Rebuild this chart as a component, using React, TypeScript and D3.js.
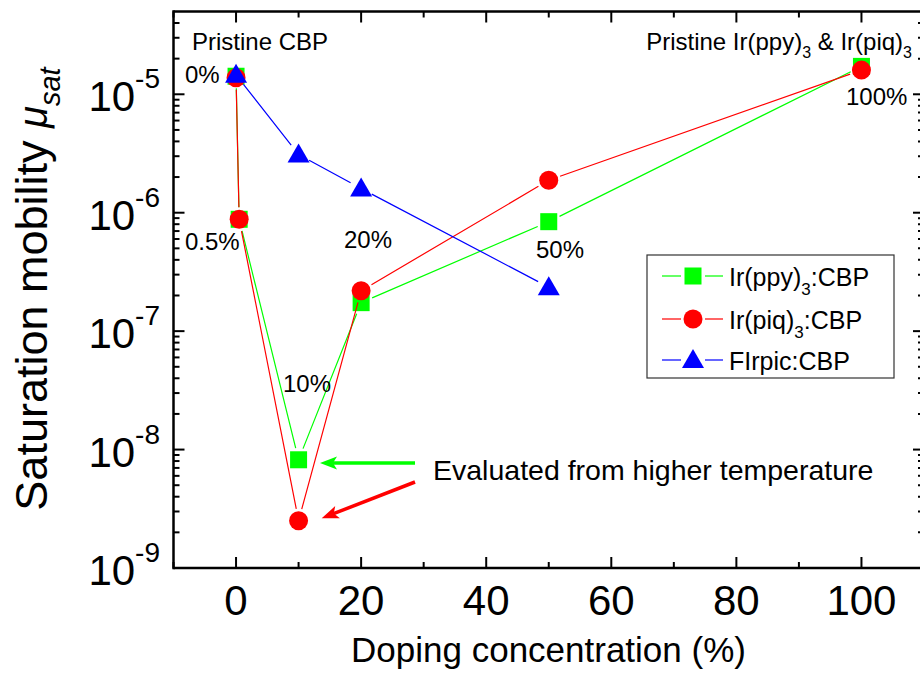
import React from "react";
import * as d3 from "d3";

const W = 920;
const H = 677;

const seriesNames = ["Ir(ppy)3:CBP", "Ir(piq)3:CBP", "FIrpic:CBP"];
const pplyX = [0, 0.5, 10, 20, 50, 100];
const pplyY = [1.42e-5, 8.8e-7, 8.2e-9, 1.74e-7, 8.4e-7, 1.72e-5];
const piqX = [0, 0.5, 10, 20, 50, 100];
const piqY = [1.38e-5, 8.8e-7, 2.51e-9, 2.19e-7, 1.88e-6, 1.6e-5];
const firX = [0, 10, 20, 50];
const firY = [1.46e-5, 3.1e-6, 1.6e-6, 2.35e-7];

const xTicks = [0, 20, 40, 60, 80, 100];
const xMinor = [-10, 10, 30, 50, 70, 90, 110];
const yExps = [-9, -8, -7, -6, -5];

const FONT = "'Liberation Sans', Arial, Helvetica, sans-serif";

const x = d3.scaleLinear().domain([-10, 110]).range([173.5, 924]);
const y = d3.scaleLog().domain([1e-9, 5e-5]).range([568, 11.5]);

const colors = ["#00ff00", "#ff0000", "#0000ff"];

function Marker({ kind, cx, cy, color }: { kind: number; cx: number; cy: number; color: string }) {
  if (kind === 0) return <rect x={cx - 8.5} y={cy - 8.5} width={17} height={17} fill={color} />;
  if (kind === 1) return <circle cx={cx} cy={cy} r={9.5} fill={color} />;
  return <path d={`M${cx},${cy - 11}L${cx + 11},${cy + 8}L${cx - 11},${cy + 8}Z`} fill={color} />;
}

function gappedSegments(pts: [number, number][], gap: number) {
  const segs: string[] = [];
  for (let i = 0; i < pts.length - 1; i++) {
    const [x1, y1] = pts[i];
    const [x2, y2] = pts[i + 1];
    const dx = x2 - x1, dy = y2 - y1;
    const L = Math.hypot(dx, dy);
    if (L <= 2 * gap) continue;
    const ux = dx / L, uy = dy / L;
    segs.push(`M${x1 + ux * gap},${y1 + uy * gap}L${x2 - ux * gap},${y2 - uy * gap}`);
  }
  return segs.join("");
}

function Arrow({ x1, y1, x2, y2, color }: { x1: number; y1: number; x2: number; y2: number; color: string }) {
  const dx = x2 - x1, dy = y2 - y1;
  const L = Math.hypot(dx, dy);
  const ux = dx / L, uy = dy / L;
  const hl = 17, hw = 6.5;
  const bx = x2 - ux * hl, by = y2 - uy * hl;
  const px = -uy, py = ux;
  const head = `M${x2},${y2}L${bx + px * hw},${by + py * hw}L${bx + ux * 4},${by + uy * 4}L${bx - px * hw},${by - py * hw}Z`;
  return (
    <g>
      <line x1={x1} y1={y1} x2={bx + ux * 5} y2={by + uy * 5} stroke={color} strokeWidth={3.5} />
      <path d={head} fill={color} />
    </g>
  );
}

export default function App() {
  const data = [
    { xs: pplyX, ys: pplyY },
    { xs: piqX, ys: piqY },
    { xs: firX, ys: firY },
  ];
  const x0 = x.range()[0], x1 = x.range()[1];
  const y0 = y.range()[0], y1 = y.range()[1];

  const yMinor: number[] = [];
  for (let e = -9; e <= -5; e++) {
    for (let m = 2; m <= 9; m++) {
      const v = m * Math.pow(10, e);
      if (v < 5e-5) yMinor.push(v);
    }
  }

  const legendRows = [276, 319, 360];

  return (
    <svg width={W} height={H} style={{ position: "absolute", left: 0, top: 0, background: "#fff" }} fontFamily={FONT}>
      <rect x={0} y={0} width={W} height={H} fill="#fff" />

      {/* series */}
      {data.map((s, i) => {
        const pts: [number, number][] = s.xs.map((v, j) => [x(v), y(s.ys[j])]);
        return (
          <g key={i}>
            <path d={gappedSegments(pts, 12)} stroke={colors[i]} strokeWidth={1.2} fill="none" />
            {pts.map((p, j) => (
              <Marker key={j} kind={i} cx={p[0]} cy={p[1]} color={colors[i]} />
            ))}
          </g>
        );
      })}

      {/* axes frame */}
      <g stroke="#000" strokeWidth={2.5} fill="none">
        <line x1={x0} y1={y0} x2={x1} y2={y0} />
        <line x1={x0} y1={y1} x2={x1} y2={y1} />
        <line x1={x0} y1={y0 + 1.25} x2={x0} y2={y1 - 1.25} />
        <line x1={x1} y1={y0 + 1.25} x2={x1} y2={y1 - 1.25} />
      </g>

      {/* x ticks */}
      <g stroke="#000" strokeWidth={2}>
        {xTicks.map((t) => (
          <g key={t}>
            <line x1={x(t)} x2={x(t)} y1={y0} y2={y0 - 11} />
            <line x1={x(t)} x2={x(t)} y1={y1} y2={y1 + 11} />
          </g>
        ))}
        {xMinor.map((t) => (
          <g key={t}>
            <line x1={x(t)} x2={x(t)} y1={y0} y2={y0 - 6} />
            <line x1={x(t)} x2={x(t)} y1={y1} y2={y1 + 6} />
          </g>
        ))}
      </g>
      <g fontSize={42} textAnchor="middle" fill="#000">
        {xTicks.map((t) => (
          <text key={t} x={x(t)} y={615}>
            {t}
          </text>
        ))}
      </g>

      {/* y ticks */}
      <g stroke="#000" strokeWidth={2}>
        {yExps.map((e) => {
          const yy = y(Math.pow(10, e));
          return (
            <g key={e}>
              <line x1={x0} x2={x0 + 11} y1={yy} y2={yy} />
              <line x1={x1} x2={x1 - 11} y1={yy} y2={yy} />
            </g>
          );
        })}
        {yMinor.map((v, k) => {
          const yy = y(v);
          return (
            <g key={k}>
              <line x1={x0} x2={x0 + 6} y1={yy} y2={yy} />
              <line x1={x1} x2={x1 - 6} y1={yy} y2={yy} />
            </g>
          );
        })}
      </g>
      <g fill="#000" textAnchor="end">
        {yExps.map((e) => {
          const yy = y(Math.pow(10, e));
          return (
            <text key={e} x={160} y={yy + 17} fontSize={42}>
              <tspan>10</tspan>
              <tspan dy={-23} fontSize={28}>{`-${-e}`}</tspan>
            </text>
          );
        })}
      </g>

      {/* axis titles */}
      <text x={548.5} y={662} fontSize={35} textAnchor="middle" fill="#000">
        Doping concentration (%)
      </text>
      <text transform="translate(47,289) rotate(-90)" fontSize={45} textAnchor="middle" fill="#000">
        <tspan>Saturation mobility </tspan>
        <tspan fontStyle="italic" fontSize={40}>μ</tspan>
        <tspan fontStyle="italic" fontSize={29} dy={13}>sat</tspan>
      </text>

      {/* annotations */}
      <g fontSize={24} fill="#000">
        <text x={192} y={50}>Pristine CBP</text>
        <text x={185} y={83}>0%</text>
        <text x={185} y={250}>0.5%</text>
        <text x={344} y={248}>20%</text>
        <text x={283} y={392}>10%</text>
        <text x={536} y={258}>50%</text>
        <text x={846} y={105}>100%</text>
        <text x={912} y={50} textAnchor="end">
          <tspan>Pristine Ir(ppy)</tspan>
          <tspan fontSize={16} dy={8}>3</tspan>
          <tspan dy={-8}> &amp; Ir(piq)</tspan>
          <tspan fontSize={16} dy={8}>3</tspan>
        </text>
      </g>
      <text x={433} y={480} fontSize={28.5} fill="#000">
        Evaluated from higher temperature
      </text>

      <Arrow x1={415} y1={463} x2={320} y2={463} color="#00ff00" />
      <Arrow x1={415} y1={482} x2={321.7} y2={518.3} color="#ff0000" />

      {/* legend */}
      <rect x={647} y={255} width={247} height={123} fill="#fff" stroke="#333" strokeWidth={1.2} />
      {seriesNames.map((name, i) => {
        const ly = legendRows[i];
        const parts = name.split("3");
        return (
          <g key={i}>
            <line x1={662} x2={681} y1={ly} y2={ly} stroke={colors[i]} strokeWidth={1.2} />
            <line x1={705} x2={723} y1={ly} y2={ly} stroke={colors[i]} strokeWidth={1.2} />
            <Marker kind={i} cx={693} cy={ly} color={colors[i]} />
            <text x={729} y={ly + 10} fontSize={25} fill="#000">
              {parts.length > 1 ? (
                <>
                  <tspan>{parts[0]}</tspan>
                  <tspan fontSize={17} dy={9}>3</tspan>
                  <tspan dy={-9}>{parts[1]}</tspan>
                </>
              ) : (
                <tspan>{name}</tspan>
              )}
            </text>
          </g>
        );
      })}
    </svg>
  );
}
